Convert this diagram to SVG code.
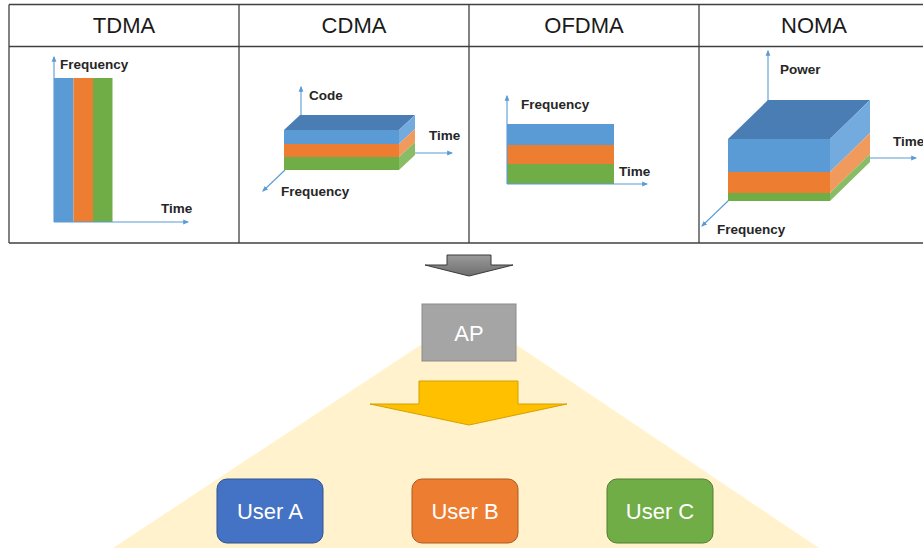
<svg xmlns="http://www.w3.org/2000/svg" width="923" height="548" viewBox="0 0 923 548">
<defs>
<style>
.grid{stroke:#404040;stroke-width:1.3;fill:none}
.hdr{font-family:"Liberation Sans",Arial,sans-serif;font-size:22px;fill:#1a1a1a;text-anchor:middle}
.lbl{font-family:"Liberation Sans",Arial,sans-serif;font-size:13.5px;font-weight:bold;fill:#262626}
.axis{stroke:#5b9bd5;stroke-width:1.1;fill:none;marker-end:url(#ah)}
.blue{fill:#5b9bd5}.orange{fill:#ed7d31}.green{fill:#70ad47}
.top{fill:#4a7db3}.blueS{fill:#74abdf}.orangeS{fill:#f19a5e}.greenS{fill:#88bd66}
.user{font-family:"Liberation Sans",Arial,sans-serif;font-size:22px;fill:#ffffff;text-anchor:middle}
</style>
<marker id="ah" viewBox="0 0 10 10" refX="8" refY="5" markerWidth="6" markerHeight="6" markerUnits="userSpaceOnUse" orient="auto">
<path d="M0,1 L10,5 L0,9 z" fill="#5b9bd5"/>
</marker>
<linearGradient id="gg" x1="0" y1="0" x2="0" y2="1">
<stop offset="0" stop-color="#9a9a9a"/><stop offset="1" stop-color="#6e6e6e"/>
</linearGradient>
</defs>
<rect width="923" height="548" fill="#ffffff"/>

<g id="table">
<line class="grid" x1="9" y1="4.5" x2="923" y2="4.5"/>
<line class="grid" x1="9" y1="46.5" x2="923" y2="46.5"/>
<line class="grid" x1="9" y1="243" x2="923" y2="243"/>
<line class="grid" x1="9" y1="4.5" x2="9" y2="243"/>
<line class="grid" x1="239" y1="4.5" x2="239" y2="243"/>
<line class="grid" x1="469" y1="4.5" x2="469" y2="243"/>
<line class="grid" x1="699" y1="4.5" x2="699" y2="243"/>
<text class="hdr" x="124" y="33">TDMA</text>
<text class="hdr" x="354" y="33">CDMA</text>
<text class="hdr" x="584" y="33">OFDMA</text>
<text class="hdr" x="814" y="33">NOMA</text>
</g>

<g id="tdma">
<rect class="blue" x="54" y="78" width="19.5" height="144"/>
<rect class="orange" x="73.5" y="78" width="19.5" height="144"/>
<rect class="green" x="93" y="78" width="19.5" height="144"/>
<line class="axis" x1="54" y1="222" x2="54" y2="57"/>
<line class="axis" x1="54" y1="222" x2="188" y2="222"/>
<text class="lbl" x="60" y="69">Frequency</text>
<text class="lbl" x="161" y="213">Time</text>
</g>

<g id="cdma">
<line class="axis" x1="301" y1="118" x2="301" y2="87"/>
<line class="axis" x1="405" y1="153" x2="452" y2="153"/>
<line class="axis" x1="285" y1="170" x2="263" y2="191"/>
<polygon class="top" points="284,130 300,115 415,115 399,130"/>
<rect class="blue" x="284" y="130" width="115" height="14"/>
<rect class="orange" x="284" y="144" width="115" height="13"/>
<rect class="green" x="284" y="157" width="115" height="13"/>
<polygon class="blueS" points="399,130 415,115 415,129 399,144"/>
<polygon class="orangeS" points="399,144 415,129 415,142 399,157"/>
<polygon class="greenS" points="399,157 415,142 415,155 399,170"/>
<text class="lbl" x="309" y="100">Code</text>
<text class="lbl" x="429" y="140">Time</text>
<text class="lbl" x="281" y="196">Frequency</text>
</g>

<g id="ofdma">
<rect class="blue" x="507" y="124" width="107" height="21"/>
<rect class="orange" x="507" y="145" width="107" height="19"/>
<rect class="green" x="507" y="164" width="107" height="20"/>
<line class="axis" x1="507" y1="184" x2="507" y2="96"/>
<line class="axis" x1="507" y1="184" x2="647" y2="184"/>
<text class="lbl" x="521" y="109">Frequency</text>
<text class="lbl" x="619" y="176">Time</text>
</g>

<g id="noma">
<line class="axis" x1="768" y1="102" x2="768" y2="51"/>
<line class="axis" x1="860" y1="158" x2="916" y2="158"/>
<line class="axis" x1="729" y1="200" x2="702" y2="226"/>
<polygon class="top" points="728,139 768,100 870,100 830,139"/>
<rect class="blue" x="728" y="139" width="102" height="33"/>
<rect class="orange" x="728" y="172" width="102" height="21"/>
<rect class="green" x="728" y="193" width="102" height="8"/>
<polygon class="blueS" points="830,139 870,100 870,133 830,172"/>
<polygon class="orangeS" points="830,172 870,133 870,154 830,193"/>
<polygon class="greenS" points="830,193 870,154 870,162 830,201"/>
<text class="lbl" x="780" y="74">Power</text>
<text class="lbl" x="893" y="146">Time</text>
<text class="lbl" x="717" y="234">Frequency</text>
</g>

<g id="coverage">
<polygon points="469,313 113,548 819,548" fill="#fff2cc"/>
</g>

<g id="connectors">
<polygon points="447,255 491,255 491,265 513,265 469,276 425,265 447,265" fill="url(#gg)" stroke="#3a3a3a" stroke-width="1"/>
<polygon points="419,381 518,381 518,404 567,404 469,425 370,404 419,404" fill="#ffc000" stroke="#d4a000" stroke-width="1"/>
</g>

<g id="ap">
<rect x="422" y="304" width="94" height="57" fill="#a5a5a5" stroke="#8c8c8c" stroke-width="1"/>
<text class="user" x="469" y="341">AP</text>
</g>

<g id="userA">
<rect x="217" y="479" width="106" height="64" rx="10" fill="#4472c4" stroke="#2f528f" stroke-width="1"/>
<text class="user" x="270" y="519">User A</text>
</g>
<g id="userB">
<rect x="412" y="479" width="106" height="64" rx="10" fill="#ed7d31" stroke="#ae5a21" stroke-width="1"/>
<text class="user" x="465" y="519">User B</text>
</g>
<g id="userC">
<rect x="607" y="479" width="106" height="64" rx="10" fill="#70ad47" stroke="#507e32" stroke-width="1"/>
<text class="user" x="660" y="519">User C</text>
</g>
</svg>
